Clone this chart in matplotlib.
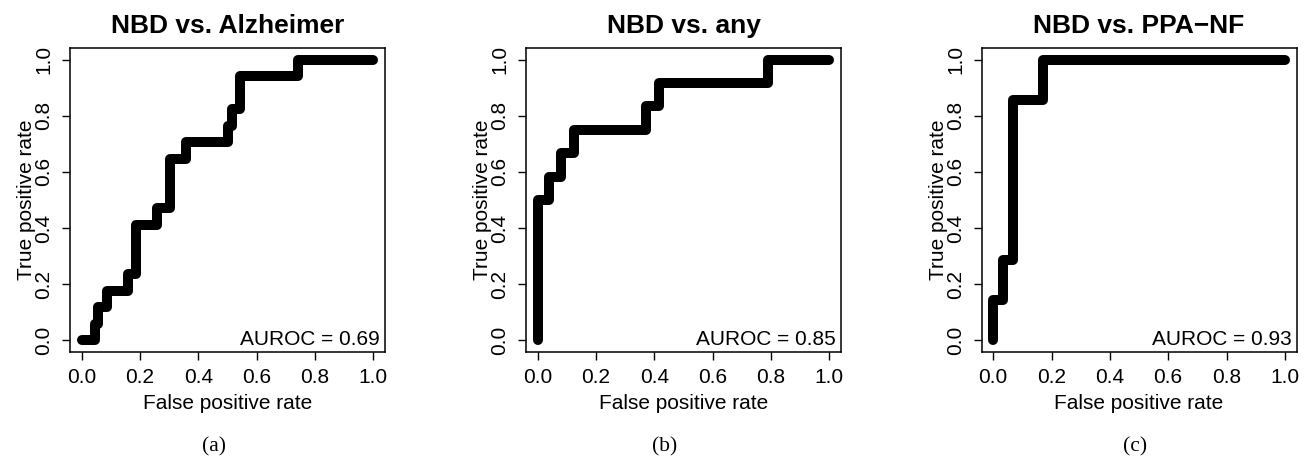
import numpy as np
import matplotlib
matplotlib.use("Agg")
import matplotlib.pyplot as plt

# ROC curve corner points (fpr, tpr), drawn as steps
titles = ["NBD vs. Alzheimer", "NBD vs. any", "NBD vs. PPA\u2212NF"]
aurocs = [0.69, 0.85, 0.93]
captions = ["(a)", "(b)", "(c)"]

fpr_a = [0, 0.045, 0.055, 0.086, 0.159, 0.186, 0.257, 0.302, 0.357, 0.500, 0.514, 0.543, 0.743, 1.0]
tpr_a = np.array([0, 1, 2, 3, 4, 7, 8, 11, 12, 13, 14, 16, 17, 17]) / 17

fpr_b = [0, 0, 0.038, 0.081, 0.124, 0.373, 0.416, 0.790, 1.0]
tpr_b = np.array([0, 6, 7, 8, 9, 10, 11, 12, 12]) / 12

fpr_c = [0, 0, 0.034, 0.069, 0.172, 1.0]
tpr_c = np.array([0, 1, 2, 6, 7, 7]) / 7

curves = [(fpr_a, tpr_a), (fpr_b, tpr_b), (fpr_c, tpr_c)]
ticks = [0.0, 0.2, 0.4, 0.6, 0.8, 1.0]
tick_labels = ["0.0", "0.2", "0.4", "0.6", "0.8", "1.0"]

plt.rcParams['font.family'] = ['Liberation Sans', 'DejaVu Sans']

W, H = 1305, 459
fig = plt.figure(figsize=(W / 100, H / 100), dpi=100)

box_left = [70, 526, 981.5]
box_w, box_top, box_bot = 315, 48.3, 351.7
cap_x = [214, 665, 1135]

for i in range(3):
    ax = fig.add_axes([box_left[i] / W, (H - box_bot) / H, box_w / W, (box_bot - box_top) / H])
    fpr, tpr = curves[i]
    ax.plot(fpr, tpr, drawstyle='steps-post', color='black', lw=7.2,
            solid_capstyle='round', solid_joinstyle='round')
    ax.set_xlim(-0.04, 1.04)
    ax.set_ylim(-0.04, 1.04)
    ax.set_xticks(ticks)
    ax.set_xticklabels(tick_labels)
    ax.set_yticks(ticks)
    ax.set_yticklabels(tick_labels, rotation=90, va='center')
    ax.tick_params(direction='out', length=5.8, width=1, labelsize=15, pad=6, colors='black')
    for s in ax.spines.values():
        s.set_linewidth(1.1)
    ax.set_title(titles[i], fontsize=19, fontweight='bold', pad=11)
    ax.set_xlabel("False positive rate", fontsize=15)
    ax.xaxis.set_label_coords(0.5, -0.189)
    ax.xaxis.label.set_va('baseline')
    ax.set_ylabel("True positive rate", fontsize=15)
    ax.yaxis.set_label_coords(-0.137, 0.5)
    ax.yaxis.label.set_va('center')
    ax.text(0.984, 0.022, "AUROC = %.2f" % aurocs[i], transform=ax.transAxes,
            ha='right', va='baseline', fontsize=15)
    fig.text(cap_x[i] / W, (H - 451) / H, captions[i], ha='center', va='baseline',
             fontsize=15.5, family=['Liberation Serif', 'DejaVu Serif'])

fig.savefig("out.png", dpi=100)
